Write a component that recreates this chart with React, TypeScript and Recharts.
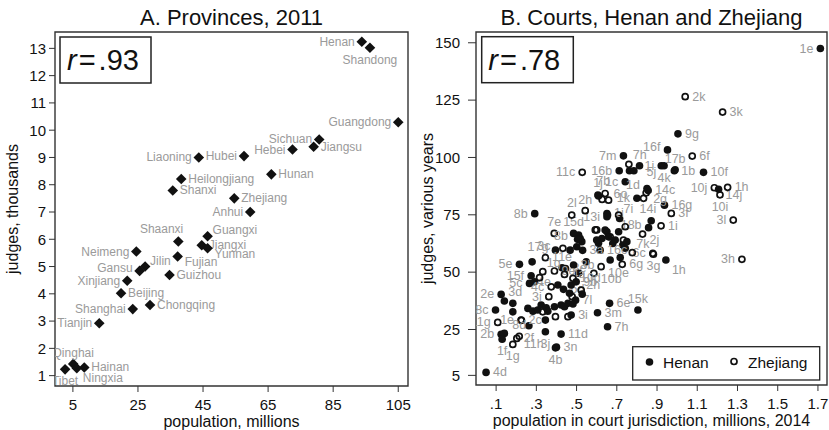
import React from 'react'
import { ScatterChart, Scatter, XAxis, YAxis, ReferenceArea } from 'recharts'

const FONT = "'Liberation Sans', Arial, Helvetica, sans-serif"
const INK = '#111'
const LABEL_GRAY = '#9a9a9a'

// ---- panel A: provinces, 2011
const provinces = ['Henan', 'Shandong', 'Guangdong', 'Sichuan', 'Jiangsu', 'Hebei', 'Hubei', 'Liaoning', 'Hunan', 'Heilongjiang', 'Shanxi', 'Zhejiang', 'Anhui', 'Guangxi', 'Shaanxi', 'Jiangxi', 'Yunnan', 'Fujian', 'Neimeng', 'Jilin', 'Gansu', 'Guizhou', 'Xinjiang', 'Beijing', 'Shanghai', 'Chongqing', 'Tianjin', 'Qinghai', 'Hainan', 'Ningxia', 'Tibet']
const provPopulation = [93.8, 96.3, 105, 80.7, 79, 72.5, 57.6, 43.7, 66, 38.3, 35.7, 54.6, 59.5, 46.4, 37.4, 44.6, 46.4, 37.2, 24.5, 27.2, 25.5, 34.7, 21.7, 19.8, 23.4, 28.7, 13.1, 5.1, 8.5, 6.2, 2.6]
const provJudges = [13.24, 13.02, 10.29, 9.66, 9.39, 9.29, 9.05, 9.0, 8.38, 8.21, 7.79, 7.5, 7.0, 6.11, 5.92, 5.78, 5.67, 5.37, 5.55, 5.0, 4.84, 4.69, 4.48, 4.02, 3.44, 3.59, 2.92, 1.43, 1.3, 1.27, 1.23]
// label clock positions
const provLabelPos = [9, 6, 9, 9, 3, 9, 9, 9, 3, 3, 3, 3, 9, 2, 11, 3, 4, 4, 9, 2, 10, 3, 9, 3, 9, 3, 9, 12, 3, 5, 6]
const provXTicks = [5, 25, 45, 65, 85, 105]
const provYTicks = [1, 2, 3, 4, 5, 6, 7, 8, 9, 10, 11, 12, 13]

// ---- panel B: courts, Henan and Zhejiang
const henanPop = [1.712, 1.004, 0.952, 0.733, 0.712, 0.763, 0.785, 0.813, 0.921, 0.935, 0.986, 0.99, 1.131, 0.742, 0.85, 0.856, 0.8, 0.609, 0.606, 0.937, 0.871, 0.858, 0.714, 0.651, 0.651, 1.206, 0.944, 0.292, 0.216, 0.279, 0.395, 0.468, 0.548, 0.274, 0.266, 0.291, 0.428, 0.445, 0.407, 0.435, 0.473, 0.498, 0.465, 0.495, 0.528, 0.125, 0.141, 0.183, 0.097, 0.183, 0.258, 0.283, 0.307, 0.324, 0.349, 0.357, 0.39, 0.423, 0.44, 0.457, 0.482, 0.473, 0.263, 0.345, 0.345, 0.423, 0.125, 0.141, 0.13, 0.395, 0.4, 0.05, 0.604, 0.664, 0.805, 0.654, 0.51, 0.526, 0.518, 0.626, 0.609, 0.692, 0.709, 0.651, 0.485, 0.51, 0.642, 0.659, 0.68, 0.73, 0.742, 0.75, 0.717, 0.667, 0.485, 0.505, 0.501, 0.6, 0.617, 0.654, 0.53]
const henanJudges = [147.5, 110.3, 103.3, 100.7, 94.2, 94.2, 94.2, 96.4, 96.4, 96.4, 94.2, 94.6, 93.5, 89.4, 86.5, 85.6, 82.2, 83.2, 83.6, 79.2, 72.4, 69.4, 73.4, 75.6, 74.2, 86.1, 55.3, 75.5, 53.4, 54.5, 59.6, 59.6, 54.5, 48.4, 45.1, 45.8, 51.9, 51.6, 44.4, 42.5, 44.4, 45.8, 40.8, 37.8, 40.4, 40.3, 37.4, 36.4, 33.5, 32.7, 34.2, 33.0, 33.5, 35.7, 34.5, 33.0, 34.9, 35.7, 34.9, 36.4, 36.1, 31.3, 26.6, 29.1, 24.0, 23.0, 22.9, 23.3, 20.8, 17.0, 17.3, 6.3, 32.3, 36.4, 33.5, 26.2, 66.2, 63.3, 64.7, 64.7, 62.6, 64.0, 67.6, 67.6, 53.1, 49.5, 68.4, 65.4, 62.5, 61.8, 60.4, 63.3, 56.4, 55.3, 66.9, 64.3, 61.1, 64.0, 59.6, 74.9, 59.5]
const henanCode = ['1e', '9g', '16f', '7m', '16b', '', '', '5j', '1i', '4k', '1b', '17b', '10f', '1c', '1d', '14c', '1k', '', '1j', '16g', '14i', '18b', '7i', '1i', '13i', '14j', '1h', '8b', '5e', '', '17g', '', '', '15f', '5c', '', '11e', '3e', '4e', '6d', '', '9b', '', '7l', '2h', '2e', '3d', '', '8c', '', '', '', '', '', '', '', '', '', '', '', '', '3i', '2f', '', '3j', '11d', '2b', '', '1f', '4b', '3n', '4d', '3m', '6e', '15k', '7h', '', '', '', '', '', '', '', '', '3b', '', '', '', '', '', '', '', '', '', '15d', '', '', '', '16c', '', '3a']
const henanPos = [9, 3, 10, 9, 9, 3, 3, 4, 9, 6, 3, 12, 3, 9, 10, 3, 9, 3, 11, 3, 11, 10, 1, 3, 9, 4, 5, 9, 9, 3, 10, 3, 3, 9, 9, 3, 12, 3, 10, 3, 3, 3, 3, 3, 1, 9, 1, 3, 9, 3, 3, 3, 3, 3, 3, 3, 3, 3, 3, 3, 3, 3, 6, 3, 6, 3, 9, 3, 6, 6, 3, 3, 3, 3, 12, 3, 3, 3, 3, 3, 3, 3, 3, 3, 3, 3, 3, 3, 3, 3, 3, 3, 3, 3, 12, 3, 3, 3, 3, 3, 3]

const zhejPop = [1.04, 1.226, 1.075, 0.76, 0.528, 1.185, 1.251, 1.213, 1.279, 1.322, 0.92, 0.828, 0.971, 0.846, 0.833, 0.642, 0.659, 0.627, 0.476, 0.543, 0.389, 0.432, 0.345, 0.879, 0.882, 0.777, 0.727, 0.622, 0.586, 0.316, 0.332, 0.39, 0.44, 0.482, 0.374, 0.362, 0.523, 0.478, 0.332, 0.395, 0.457, 0.108, 0.224, 0.226, 0.203, 0.215, 0.183, 0.6, 0.667, 0.709, 0.742, 0.733, 0.593]
const zhejJudges = [126.5, 119.8, 100.6, 97.0, 93.5, 86.8, 87.0, 83.7, 72.7, 55.6, 70.2, 66.6, 75.6, 84.6, 82.2, 84.3, 81.4, 81.7, 74.9, 76.8, 66.9, 60.4, 56.3, 58.2, 57.8, 58.5, 53.4, 52.4, 49.5, 47.6, 50.2, 50.5, 49.0, 47.3, 43.6, 39.3, 42.2, 39.3, 32.7, 30.6, 30.6, 28.1, 29.1, 29.0, 21.1, 22.0, 18.5, 68.4, 65.4, 74.9, 69.8, 64.0, 68.4]
const zhejCode = ['2k', '3k', '6f', '7h', '11c', '10j', '1h', '10i', '3l', '3h', '1i', '2j', '3f', '2g', '', '7b', '6o', '', '2l', '2h', '7e', '8b', '3c', '6c', '3g', '7k', '6g', '10e', '10b', '', '1g', '9e', '4a', '10d', '4c', '3i', '', '', '', '', '', '11g', '1e', '2c', '11h', '8d', '1g', '', '', '', '', '', '']
const zhejPos = [3, 3, 3, 1, 9, 9, 3, 6, 9, 9, 3, 4, 3, 4, 3, 11, 2, 3, 11, 12, 12, 11, 11, 9, 6, 1, 3, 4, 4, 3, 1, 3, 3, 3, 9, 9, 3, 3, 3, 3, 3, 9, 9, 3, 4, 12, 6, 3, 3, 3, 3, 3, 3]
const courtXTicks = [0.1, 0.3, 0.5, 0.7, 0.9, 1.1, 1.3, 1.5, 1.7]
const courtYTicks = [5, 25, 50, 75, 100, 125, 150]

const provData = provinces.map((name, i) => ({ x: provPopulation[i], y: provJudges[i], label: name, pos: provLabelPos[i] }))
const henanData = henanPop.map((x, i) => ({ x, y: henanJudges[i], label: henanCode[i], pos: henanPos[i] }))
const zhejData = zhejPop.map((x, i) => ({ x, y: zhejJudges[i], label: zhejCode[i], pos: zhejPos[i] }))

// dx, dy, anchor for each clock position
const POS: Record<number, [number, number, 'start' | 'middle' | 'end']> = {
  1: [4, -5, 'start'],
  2: [5, -2, 'start'],
  3: [7, 4, 'start'],
  4: [7, 10, 'start'],
  5: [6, 14, 'start'],
  6: [0, 16, 'middle'],
  9: [-7, 4, 'end'],
  10: [-7, 1, 'end'],
  11: [5, -8, 'end'],
  12: [0, -7, 'middle'],
}

const markerLabel = (cx: number, cy: number, p: any, size: number) => {
  if (!p.label) return null
  const [dx, dy, anchor] = POS[p.pos] || POS[3]
  return (
    <text x={cx + dx} y={cy + dy} textAnchor={anchor} fontSize={size} fill={LABEL_GRAY} fontFamily={FONT}>
      {p.label}
    </text>
  )
}

const DiamondShape = (props: any) => {
  const { cx, cy, payload } = props
  if (cx == null || cy == null) return null
  const s = 5.3
  return (
    <g>
      <path d={`M${cx},${cy - s}L${cx + s},${cy}L${cx},${cy + s}L${cx - s},${cy}Z`} fill={INK} />
      {markerLabel(cx, cy, payload, 12)}
    </g>
  )
}

const DotShape = (props: any) => {
  const { cx, cy, payload } = props
  if (cx == null || cy == null) return null
  return (
    <g>
      <circle cx={cx} cy={cy} r={3.8} fill={INK} />
      {markerLabel(cx, cy, payload, 12.5)}
    </g>
  )
}

const RingShape = (props: any) => {
  const { cx, cy, payload } = props
  if (cx == null || cy == null) return null
  return (
    <g>
      <circle cx={cx} cy={cy} r={3.0} fill="none" stroke={INK} strokeWidth={1.7} />
      {markerLabel(cx, cy, payload, 12.5)}
    </g>
  )
}

const tickStyle = { fill: INK, fontSize: 15, fontFamily: FONT }
const titleStyle = { fill: INK, fontSize: 16, fontFamily: FONT }

const App = () => {
  return (
    <div style={{ position: 'absolute', left: 0, top: 0, width: 829, height: 430, background: '#fff', fontFamily: FONT }}>
      <div style={{ position: 'absolute', left: 0, top: 0 }}>
        <ScatterChart width={420} height={430} margin={{ top: 32, right: 12, bottom: 6, left: 5 }}>
          <XAxis
            type="number"
            dataKey="x"
            domain={[-0.5, 108]}
            ticks={provXTicks}
            interval={0}
            allowDataOverflow
            axisLine={false}
            tickLine={{ stroke: '#333' }}
            tickSize={6}
            tickMargin={7}
            height={38}
            tick={tickStyle}
            label={{ value: 'population, millions', position: 'insideBottom', offset: -3, style: titleStyle }}
          />
          <YAxis
            type="number"
            dataKey="y"
            domain={[0.62, 13.6]}
            ticks={provYTicks}
            interval={0}
            allowDataOverflow
            axisLine={false}
            tickLine={{ stroke: '#333' }}
            tickSize={6}
            tickMargin={3}
            width={50}
            tick={tickStyle}
            label={{ value: 'judges, thousands', angle: -90, position: 'insideLeft', offset: 7, style: { ...titleStyle, textAnchor: 'middle' } }}
          />
          <ReferenceArea x1={-0.5} x2={108} y1={0.62} y2={13.6} fill="none" stroke="#333" strokeWidth={1.4} ifOverflow="visible" />
          <Scatter data={provData} shape={DiamondShape} isAnimationActive={false} />
        </ScatterChart>
      </div>
      <div style={{ position: 'absolute', left: 420, top: 0 }}>
        <ScatterChart width={409} height={430} margin={{ top: 32, right: 2, bottom: 7, left: 6 }} style={{ overflow: 'visible' }}>
          <XAxis
            type="number"
            dataKey="x"
            domain={[0, 1.745]}
            ticks={courtXTicks}
            interval={0}
            allowDataOverflow
            axisLine={false}
            tickLine={{ stroke: '#333' }}
            tickSize={6}
            tickMargin={7}
            height={38}
            tick={tickStyle}
            tickFormatter={(v: number) => v.toFixed(1).replace(/^0/, '')}
            label={{ value: 'population in court jurisdiction, millions, 2014', position: 'insideBottom', offset: -3, style: titleStyle }}
          />
          <YAxis
            type="number"
            dataKey="y"
            domain={[0.8, 154.7]}
            ticks={courtYTicks}
            interval={0}
            allowDataOverflow
            axisLine={false}
            tickLine={{ stroke: '#333' }}
            tickSize={8}
            tickMargin={8}
            width={50}
            tick={tickStyle}
            label={{ value: 'judges, various years', angle: -90, position: 'insideLeft', offset: 1.5, style: { ...titleStyle, textAnchor: 'middle' } }}
          />
          <ReferenceArea x1={0} x2={1.745} y1={0.8} y2={154.7} fill="none" stroke="#333" strokeWidth={1.4} ifOverflow="visible" />
          <Scatter name="Henan" data={henanData} shape={DotShape} isAnimationActive={false} />
          <Scatter name="Zhejiang" data={zhejData} shape={RingShape} isAnimationActive={false} />
        </ScatterChart>
      </div>
      <svg width={829} height={430} style={{ position: 'absolute', left: 0, top: 0, pointerEvents: 'none' }}>
        <text x={231.5} y={24.5} textAnchor="middle" fontSize={22} fill={INK} fontFamily={FONT}>A. Provinces, 2011</text>
        <text x={651.5} y={24.5} textAnchor="middle" fontSize={22} fill={INK} fontFamily={FONT}>B. Courts, Henan and Zhejiang</text>

        <rect x={60} y={37} width={91} height={46} fill="#fff" stroke="#222" strokeWidth={1.5} />
        <text x={67} y={70} fontSize={29} fill={INK} fontFamily={FONT}>
          <tspan fontStyle="italic">r</tspan><tspan dx={2}>=</tspan><tspan dx={3}>.93</tspan>
        </text>

        <rect x={481.7} y={36.7} width={91.6} height={46} fill="#fff" stroke="#222" strokeWidth={1.5} />
        <text x={488.3} y={70} fontSize={29} fill={INK} fontFamily={FONT}>
          <tspan fontStyle="italic">r</tspan><tspan dx={2}>=</tspan><tspan dx={3}>.78</tspan>
        </text>

        <rect x={632.7} y={346.7} width={187} height={33.3} fill="#fff" stroke="#222" strokeWidth={1.3} />
        <circle cx={649.5} cy={362} r={3.8} fill={INK} />
        <text x={663} y={368} fontSize={15.5} fill={INK} fontFamily={FONT}>Henan</text>
        <circle cx={734} cy={361.5} r={3} fill="none" stroke={INK} strokeWidth={1.7} />
        <text x={748} y={368} fontSize={15.5} fill={INK} fontFamily={FONT}>Zhejiang</text>
      </svg>
    </div>
  )
}

export default App
